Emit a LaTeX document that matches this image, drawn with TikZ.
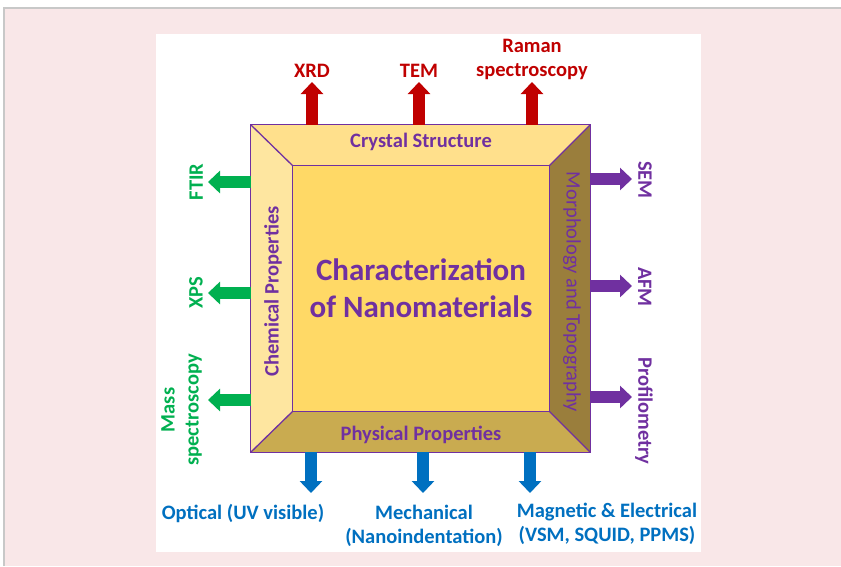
\documentclass[tikz,border=0pt]{standalone}
\usepackage{fontspec}
\setmainfont{Carlito}
\usetikzlibrary{calc,arrows.meta,positioning}
\definecolor{nanopurple}{HTML}{7030A0}
\definecolor{nanored}{HTML}{C00000}
\definecolor{nanogreen}{HTML}{00B050}
\definecolor{nanoblue}{HTML}{0070C0}
\definecolor{facecore}{HTML}{FFD966}
\definecolor{facetop}{HTML}{FFE08C}
\definecolor{faceleft}{HTML}{FEE6A0}
\definecolor{facebottom}{HTML}{C9AB50}
\definecolor{faceright}{HTML}{9A7E3C}
\definecolor{pagepink}{HTML}{F9E7E8}
\definecolor{pagegray}{HTML}{C8C8C8}

\begin{document}
\begin{tikzpicture}[x=1pt,y=-1pt,
    fat/.style={line width=12pt,-{Triangle[width=22pt,length=12pt]}},
    lbl/.style={font=\bfseries\fontsize{20.5}{24}\selectfont,align=center,inner sep=0pt},
    facelbl/.style={text=nanopurple,font=\bfseries\fontsize{20.5}{24}\selectfont,inner sep=0pt},
    edge/.style={draw=nanopurple,line width=1.3pt}]
      \useasboundingbox (0,0) rectangle (841,566);
      \fill[white] (0,0) rectangle (841,566);
      \fill[pagepink] (4,8) rectangle (841,566);
      \draw[pagegray,line width=1.5pt] (4,566) -- (4,8) -- (841,8);
      \fill[white] (156,34) rectangle (701,552);
      % the box and its inner face
      \node[minimum width=339pt,minimum height=327pt,inner sep=0pt] (box) at (420.5,288.5) {};
      \node[minimum width=256pt,minimum height=245pt,inner sep=0pt] (core) at (421,288.5) {};
      \fill[facetop] (box.north west) -- (box.north east) -- (core.north east) -- (core.north west) -- cycle;
      \fill[faceleft] (box.north west) -- (core.north west) -- (core.south west) -- (box.south west) -- cycle;
      \fill[facebottom] (box.south west) -- (core.south west) -- (core.south east) -- (box.south east) -- cycle;
      \fill[faceright] (box.north east) -- (box.south east) -- (core.south east) -- (core.north east) -- cycle;
      \fill[facecore] (core.north west) rectangle (core.south east);
      \draw[edge] (box.north west) rectangle (box.south east);
      \draw[edge] (core.north west) rectangle (core.south east);
      \foreach \c in {north west,north east,south east,south west}
        \draw[edge] (box.\c) -- (core.\c);
      \node[facelbl] (crystal) at (421,141.5) {Crystal Structure};
      \node[facelbl] (physical) at (421,435) {Physical Properties};
      \node[facelbl,rotate=90] (chemical) at (273,291.5) {Chemical Properties};
      \node[facelbl,font=\fontsize{20.5}{24}\selectfont,rotate=-90] (morph) at (572,292) {Morphology and Topography};
      \node[text=nanopurple,font=\bfseries\fontsize{31}{37}\selectfont,align=center,inner sep=0pt] (title) at (core) {Characterization\\of Nanomaterials};
      % crystal structure
      \coordinate (xrdtip) at (312,82);
      \coordinate (temtip) at (419,82);
      \coordinate (ramantip) at (532,82);
      \draw[fat,nanored] (xrdtip |- box.north) -- (xrdtip);
      \draw[fat,nanored] (temtip |- box.north) -- (temtip);
      \draw[fat,nanored] (ramantip |- box.north) -- (ramantip);
      \node[lbl,text=nanored,above=4pt of xrdtip] (xrd) {XRD};
      \node[lbl,text=nanored,above=4pt of temtip] (tem) {TEM};
      \node[lbl,text=nanored,above=2pt of ramantip] (raman) {Raman\\spectroscopy};
      % chemical properties
      \coordinate (ftirtip) at (208,182);
      \coordinate (xpstip) at (208,293);
      \coordinate (masstip) at (208,400);
      \draw[fat,nanogreen] (ftirtip -| box.west) -- (ftirtip);
      \draw[fat,nanogreen] (xpstip -| box.west) -- (xpstip);
      \draw[fat,nanogreen] (masstip -| box.west) -- (masstip);
      \node[lbl,text=nanogreen,rotate=90,anchor=south] (ftir) at (203,182) {FTIR};
      \node[lbl,text=nanogreen,rotate=90,anchor=south] (xps) at (203,293) {XPS};
      \node[lbl,text=nanogreen,rotate=90,anchor=south] (mass) at (202,410) {Mass\\spectroscopy};
      % morphology and topography
      \coordinate (semtip) at (632,179);
      \coordinate (afmtip) at (632,286);
      \coordinate (proftip) at (632,397);
      \draw[fat,nanopurple] (semtip -| box.east) -- (semtip);
      \draw[fat,nanopurple] (afmtip -| box.east) -- (afmtip);
      \draw[fat,nanopurple] (proftip -| box.east) -- (proftip);
      \node[lbl,text=nanopurple,rotate=-90,anchor=south] (sem) at (638,180) {SEM};
      \node[lbl,text=nanopurple,rotate=-90,anchor=south] (afm) at (638,287) {AFM};
      \node[lbl,text=nanopurple,rotate=-90,anchor=south] (prof) at (635,411) {Profilometry};
      % physical properties
      \coordinate (opttip) at (311,493);
      \coordinate (mechtip) at (423,493);
      \coordinate (magtip) at (530,493);
      \draw[fat,nanoblue] (opttip |- box.south) -- (opttip);
      \draw[fat,nanoblue] (mechtip |- box.south) -- (mechtip);
      \draw[fat,nanoblue] (magtip |- box.south) -- (magtip);
      \node[lbl,text=nanoblue,anchor=north] (optical) at (243,504) {Optical (UV visible)};
      \node[lbl,text=nanoblue,anchor=north] (mech) at (424,505) {Mechanical\\(Nanoindentation)};
      \node[lbl,text=nanoblue,anchor=north] (mag) at (607,503) {Magnetic \& Electrical\\(VSM, SQUID, PPMS)};
\end{tikzpicture}
\end{document}
